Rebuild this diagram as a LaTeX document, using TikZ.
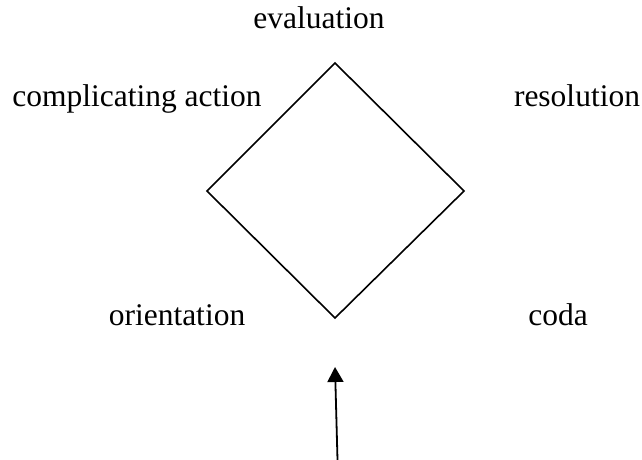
\documentclass[tikz,border=0pt]{standalone}
\usepackage{fontspec}
\setmainfont{Liberation Serif}
\usetikzlibrary{arrows.meta}
\tikzset{
    part/.style={inner sep=0pt,anchor=base,font=\fontsize{31.5}{38}\selectfont},
    side/.style={black,line width=1.6pt,line join=miter},
    rise/.style={black,line width=1.8pt,-{Triangle[length=15pt,width=16pt]}}
}

\begin{document}
\begin{tikzpicture}[x=1pt,y=-1pt]
        \useasboundingbox (0,0) rectangle (642,460);
        \node [part] (evaluation) at (319,29) {evaluation};
        \node [part] (complicating) at (137,106) {complicating action};
        \node [part] (resolution) at (577,106) {resolution};
        \node [part] (orientation) at (177,325) {orientation};
        \node [part] (coda) at (558,325) {coda};
        \coordinate (top) at (335,63);
        \coordinate (right) at (464,191);
        \coordinate (bottom) at (335,318);
        \coordinate (left) at (207,191);
        \draw [side] (top) -- (right) -- (bottom) -- (left) -- cycle;
        \coordinate (tail) at (337.5,460);
        \coordinate (tip) at (335,367);
        \draw [rise] (tail) -- (tip);
    \end{tikzpicture}
\end{document}
